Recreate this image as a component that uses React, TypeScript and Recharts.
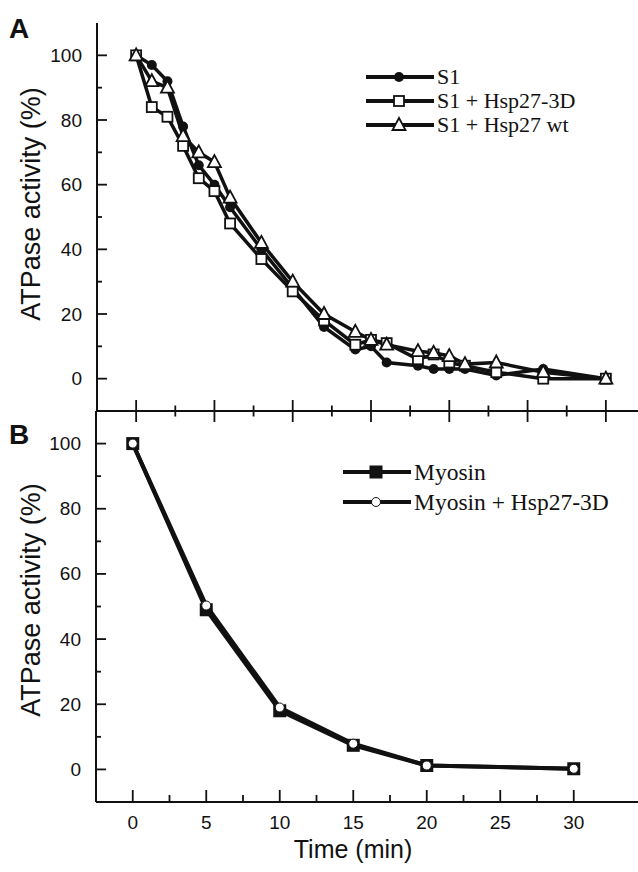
import { LineChart, Line, XAxis, YAxis, Legend } from 'recharts';

// Panel A: S1 ATPase activity over time (%)
const timesA = [0, 1, 2, 3, 4, 5, 6, 8, 10, 12, 14, 15, 16, 18, 19, 20, 21, 23, 26, 30];
const s1 = [100, 97, 92, 78, 66, 60, 53, 40, 28, 16, 9, 10, 5, 4, 3, 3, 3, 1, 3, 0];
const s1Hsp3D = [100, 84, 81, 72, 62, 58, 48, 37, 27, 18, 10.5, 12, 11, 6, 7.5, 5, 4, 2, 0, 0];
const s1HspWt = [100, 92, 90, 75, 70, 67, 56, 42, 30, 20, 14.5, 12, 10.5, 8.5, 8, 7, 4.5, 5, 2, 0];

// Panel B: myosin ATPase activity over time (%)
const timesB = [0, 5, 10, 15, 20, 30];
const myosin = [100, 49, 18, 7.4, 1.2, 0.2];
const myosinHsp3D = [100, 50.3, 19, 7.9, 1.2, 0.2];

const yTicks = [0, 10, 20, 30, 40, 50, 60, 70, 80, 90, 100];
const xTicks = [0, 2.5, 5, 7.5, 10, 12.5, 15, 17.5, 20, 22.5, 25, 27.5, 30];

const dataA = timesA.map((t, i) => ({ t, s1: s1[i], d3: s1Hsp3D[i], wt: s1HspWt[i] }));
const dataB = timesB.map((t, i) => ({ t, my: myosin[i], myd3: myosinHsp3D[i] }));

const INK = '#111';
const SANS = '"Liberation Sans", Arial, Helvetica, sans-serif';
const SERIF = '"Liberation Serif", "Times New Roman", serif';

// marker shapes, shared by the lines and the legends
const FilledDot = (cx: number, cy: number, k?: any) => <circle key={k} cx={cx} cy={cy} r={5} fill={INK} />;
const OpenSquare = (cx: number, cy: number, k?: any) => (
  <rect key={k} x={cx - 5} y={cy - 5} width={10} height={10} fill="#fff" stroke={INK} strokeWidth={1.8} />
);
const OpenTriangle = (cx: number, cy: number, k?: any) => (
  <polygon key={k} points={`${cx},${cy - 7} ${cx - 6.5},${cy + 5} ${cx + 6.5},${cy + 5}`} fill="#fff" stroke={INK} strokeWidth={1.8} />
);
const FilledSquare = (cx: number, cy: number, k?: any) => (
  <rect key={k} x={cx - 6.5} y={cy - 6.5} width={13} height={13} fill={INK} />
);
const OpenCircle = (cx: number, cy: number, k?: any) => (
  <circle key={k} cx={cx} cy={cy} r={4.5} fill="#fff" stroke={INK} strokeWidth={1} />
);

const seriesA = [
  { key: 's1', name: 'S1', marker: FilledDot },
  { key: 'd3', name: 'S1 + Hsp27-3D', marker: OpenSquare },
  { key: 'wt', name: 'S1 + Hsp27 wt', marker: OpenTriangle },
];
const seriesB = [
  { key: 'my', name: 'Myosin', marker: FilledSquare },
  { key: 'myd3', name: 'Myosin + Hsp27-3D', marker: OpenCircle },
];

const LeftTick = (props: any) => {
  const { x, y, payload } = props;
  const major = payload.value % 20 === 0;
  return (
    <g>
      <line x1={x} x2={x + (major ? 10 : 5)} y1={y} y2={y} stroke={INK} strokeWidth={1.8} />
      {major && (
        <text x={x - 15} y={y} textAnchor="end" dominantBaseline="central" fontSize={19} fontFamily={SANS} fill={INK}>
          {payload.value}
        </text>
      )}
    </g>
  );
};

// ticks crossing the line between the two panels
const CrossTick = (props: any) => {
  const { x, y, payload } = props;
  const h = payload.value % 5 === 0 ? 11 : 5.5;
  return <line x1={x} x2={x} y1={y - h} y2={y + h} stroke={INK} strokeWidth={1.8} />;
};

const BottomTick = (props: any) => {
  const { x, y, payload } = props;
  const major = payload.value % 5 === 0;
  return (
    <g>
      <line x1={x} x2={x} y1={y} y2={y - (major ? 12 : 7)} stroke={INK} strokeWidth={1.8} />
      {major && (
        <text x={x} y={y + 20} textAnchor="middle" dominantBaseline="central" fontSize={19} fontFamily={SANS} fill={INK}>
          {payload.value}
        </text>
      )}
    </g>
  );
};

function LegendBox({ rows, fontSize, rowH }: { rows: any[]; fontSize: number; rowH: number }) {
  return (
    <div>
      {rows.map((r) => (
        <div key={r.key} style={{ display: 'flex', alignItems: 'center', height: rowH }}>
          <svg width={68} height={rowH} style={{ display: 'block' }}>
            <line x1={0} x2={68} y1={rowH / 2} y2={rowH / 2} stroke={INK} strokeWidth={4} />
            {r.marker(33, rowH / 2)}
          </svg>
          <span style={{ fontFamily: SERIF, fontSize, color: INK, marginLeft: 3, whiteSpace: 'nowrap' }}>{r.name}</span>
        </div>
      ))}
    </div>
  );
}

export default function App() {
  return (
    <div style={{ position: 'absolute', left: 0, top: 0, width: 638, height: 872, overflow: 'hidden', background: '#fff' }}>
      {/* Panel A */}
      <div style={{ position: 'absolute', left: 0, top: 0 }}>
        <LineChart width={700} height={430} data={dataA} margin={{ top: 23, right: 55, bottom: 0, left: 0 }}>
          <XAxis
            xAxisId="top"
            orientation="top"
            type="number"
            dataKey="t"
            domain={[-2.5, 32.5]}
            height={0}
            tick={false}
            tickLine={false}
            axisLine={{ stroke: INK, strokeWidth: 2 }}
          />
          <XAxis
            type="number"
            dataKey="t"
            domain={[-2.5, 32.5]}
            ticks={xTicks}
            interval={0}
            height={19}
            tickSize={0}
            tickMargin={0}
            tickLine={false}
            tick={CrossTick}
            axisLine={{ stroke: INK, strokeWidth: 2 }}
          />
          <YAxis
            type="number"
            domain={[-10, 110]}
            ticks={yTicks}
            interval={0}
            width={97}
            tickSize={0}
            tickMargin={0}
            tickLine={false}
            tick={LeftTick}
            axisLine={{ stroke: INK, strokeWidth: 2 }}
          />
          {seriesA.map((s) => (
            <Line
              key={s.key}
              dataKey={s.key}
              name={s.name}
              type="linear"
              stroke={INK}
              strokeWidth={3.5}
              isAnimationActive={false}
              activeDot={false}
              dot={(p: any) => s.marker(p.cx, p.cy, p.index)}
            />
          ))}
          <Legend
            layout="vertical"
            align="center"
            verticalAlign="middle"
            wrapperStyle={{ left: 366, top: 65, width: 270 }}
            content={() => <LegendBox rows={seriesA} fontSize={22} rowH={24} />}
          />
        </LineChart>
      </div>

      {/* Panel B */}
      <div style={{ position: 'absolute', left: 0, top: 0 }}>
        <LineChart width={700} height={872} data={dataB} margin={{ top: 411, right: 16, bottom: 0, left: 0 }}>
          <XAxis
            type="number"
            dataKey="t"
            domain={[-2.5, 37.5]}
            ticks={xTicks}
            interval={0}
            height={70}
            tickSize={0}
            tickMargin={0}
            tickLine={false}
            tick={BottomTick}
            axisLine={{ stroke: INK, strokeWidth: 2 }}
          />
          <YAxis
            type="number"
            domain={[-10, 110]}
            ticks={yTicks}
            interval={0}
            width={96}
            tickSize={0}
            tickMargin={0}
            tickLine={false}
            tick={LeftTick}
            axisLine={{ stroke: INK, strokeWidth: 2 }}
          />
          {seriesB.map((s) => (
            <Line
              key={s.key}
              dataKey={s.key}
              name={s.name}
              type="linear"
              stroke={INK}
              strokeWidth={4}
              isAnimationActive={false}
              activeDot={false}
              dot={(p: any) => s.marker(p.cx, p.cy, p.index)}
            />
          ))}
          <Legend
            layout="vertical"
            align="center"
            verticalAlign="middle"
            wrapperStyle={{ left: 343, top: 457, width: 300 }}
            content={() => <LegendBox rows={seriesB} fontSize={23.5} rowH={30} />}
          />
        </LineChart>
      </div>

      {/* panel letters and axis titles */}
      <svg width={638} height={872} style={{ position: 'absolute', left: 0, top: 0, pointerEvents: 'none' }}>
        <text x={9} y={38} fontSize={28} fontWeight="bold" fontFamily={SANS} fill={INK}>A</text>
        <text x={9} y={444} fontSize={28} fontWeight="bold" fontFamily={SANS} fill={INK}>B</text>
        <text transform="translate(31,204) rotate(-90)" textAnchor="middle" dominantBaseline="central" fontSize={27} fontFamily={SANS} fill={INK}>
          ATPase activity (%)
        </text>
        <text transform="translate(31,600) rotate(-90)" textAnchor="middle" dominantBaseline="central" fontSize={27} fontFamily={SANS} fill={INK}>
          ATPase activity (%)
        </text>
        <text x={353} y={849} textAnchor="middle" dominantBaseline="central" fontSize={25} fontFamily={SANS} fill={INK}>
          Time (min)
        </text>
      </svg>
    </div>
  );
}
